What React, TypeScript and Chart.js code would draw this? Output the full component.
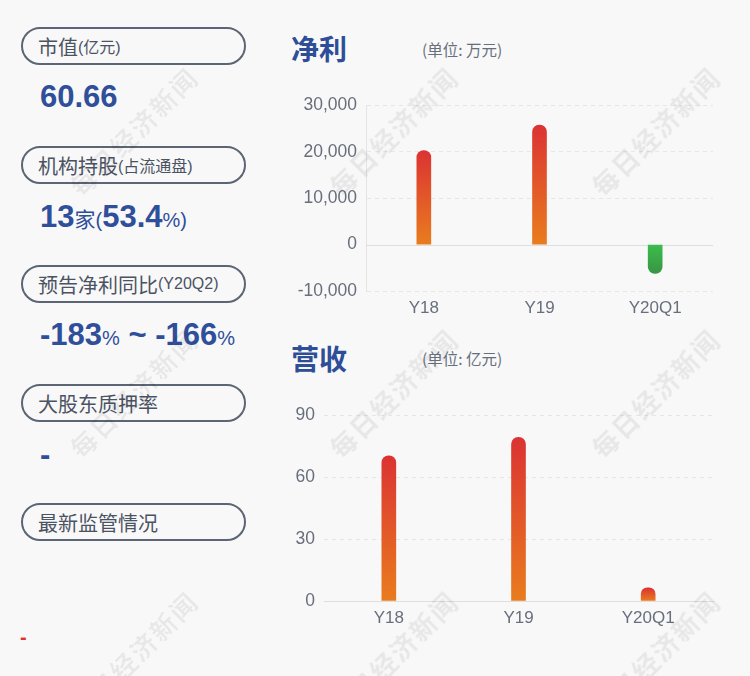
import React, { useEffect, useRef } from 'react';
import { Chart, registerables } from 'chart.js';

Chart.register(...registerables);

// ---- data ----
const categories: string[] = ['Y18', 'Y19', 'Y20Q1'];
const profitValues: number[] = [20300, 25800, -6200];
const revenueValues: number[] = [70.4, 79.4, 6.4];
const profitTicks: number[] = [-10000, 0, 10000, 20000, 30000];
const revenueTicks: number[] = [0, 30, 60, 90];

const watermarkCenters: number[][] = [
  [133, 131], [393, 131], [655, 131],
  [133, 393], [393, 393], [655, 393],
  [133, 655], [393, 655], [655, 655],
];

const LATIN = '"Liberation Sans", Arial, "Noto Sans CJK SC", sans-serif';
const CJK = '"Noto Sans CJK SC", "Liberation Sans", sans-serif';
const BLUE = '#2f4f9a';
const BOX = '#5b6573';
const LABEL = '#4b5363';
const TICK = '#686f7c';

function barGradient(c: any) {
  const chart = c.chart;
  const area = chart.chartArea;
  const v = c.raw as number;
  if (!area || c.type !== 'data' || !chart.scales || !chart.scales.y) return v < 0 ? '#3cb54a' : '#e05a2a';
  const y = chart.scales.y;
  const y0 = y.getPixelForValue(0);
  const y1 = y.getPixelForValue(v);
  if (!isFinite(y0) || !isFinite(y1) || y0 === y1) return v < 0 ? '#3cb54a' : '#e05a2a';
  const g = chart.ctx.createLinearGradient(0, y1, 0, y0);
  if (v >= 0) {
    g.addColorStop(0, '#db3333');
    g.addColorStop(1, '#e97c1e');
  } else {
    g.addColorStop(0, '#379643');
    g.addColorStop(1, '#3dbc4c');
  }
  return g;
}

const zeroLine = {
  id: 'zeroLine',
  beforeDatasetsDraw(chart: any) {
    const y = chart.scales.y;
    const { left, right } = chart.chartArea;
    const py = Math.round(y.getPixelForValue(0)) + 0.5;
    const ctx = chart.ctx;
    ctx.save();
    ctx.strokeStyle = '#dedede';
    ctx.lineWidth = 1;
    ctx.beginPath();
    ctx.moveTo(left, py);
    ctx.lineTo(right, py);
    ctx.stroke();
    ctx.restore();
  },
};

function BarChart(props: {
  values: number[];
  ticks: number[];
  yWidth: number;
  showYBorder: boolean;
  showXBorder: boolean;
  left: number;
  top: number;
}) {
  const ref = useRef<HTMLCanvasElement | null>(null);
  useEffect(() => {
    if (!ref.current) return;
    const t = props.ticks;
    const chart = new Chart(ref.current, {
      type: 'bar',
      data: {
        labels: categories,
        datasets: [
          {
            data: props.values,
            backgroundColor: barGradient as any,
            barThickness: 14,
            borderRadius: 7,
            borderSkipped: 'start',
          },
        ],
      },
      plugins: [zeroLine],
      options: {
        animation: false,
        responsive: false,
        devicePixelRatio: 1,
        layout: { padding: { top: 2, right: 17, bottom: 0, left: 0 } },
        plugins: { legend: { display: false }, tooltip: { enabled: false } },
        scales: {
          x: {
            grid: { display: false, drawTicks: false },
            border: { display: props.showXBorder, color: '#dcdcdc' },
            ticks: { color: TICK, font: { family: LATIN, size: 17 }, padding: 7 },
            afterFit: (s: any) => { s.height = 30; },
          },
          y: {
            min: t[0],
            max: t[t.length - 1],
            grid: {
              drawTicks: false,
              color: (c: any) => (c.tick && c.tick.value === 0 ? 'rgba(0,0,0,0)' : '#e7e7e7'),
            },
            border: { display: props.showYBorder, color: '#e4e4e4', dash: [4, 4] },
            ticks: {
              stepSize: t[1] - t[0],
              color: TICK,
              font: { family: LATIN, size: 17.5 },
              padding: 9,
              callback: (v: any) => Number(v).toLocaleString('en-US'),
            },
            afterFit: (s: any) => { s.width = props.yWidth; },
          },
        },
      },
    });
    return () => chart.destroy();
  }, []);
  return (
    <canvas
      ref={ref}
      width={450}
      height={235}
      style={{ position: 'absolute', left: props.left, top: props.top, width: 450, height: 235 }}
    />
  );
}

function Pill(props: { top: number; children: React.ReactNode }) {
  return (
    <div
      style={{
        position: 'absolute',
        left: 21,
        top: props.top,
        width: 225,
        height: 38,
        boxSizing: 'border-box',
        border: `2px solid ${BOX}`,
        borderRadius: 19,
        display: 'flex',
        alignItems: 'center',
        paddingLeft: 15,
        fontFamily: LATIN,
        fontSize: 20,
        color: LABEL,
        whiteSpace: 'nowrap',
      }}
    >
      {props.children}
    </div>
  );
}

function Value(props: { top: number; children: React.ReactNode; color?: string; size?: number; left?: number }) {
  const size = props.size || 31;
  return (
    <div
      style={{
        position: 'absolute',
        left: props.left ?? 40,
        top: props.top,
        fontFamily: LATIN,
        fontWeight: 'bold',
        fontSize: size,
        lineHeight: `${size}px`,
        color: props.color || BLUE,
        whiteSpace: 'nowrap',
      }}
    >
      {props.children}
    </div>
  );
}

const small = { fontSize: 20, fontWeight: 'normal' as const };
const small16 = { fontSize: 16 };

export default function App() {
  return (
    <div
      style={{
        position: 'absolute',
        left: 0,
        top: 0,
        width: 750,
        height: 676,
        background: '#f8f8f8',
        overflow: 'hidden',
      }}
    >
      <Pill top={27}>市值<span style={small16}>(亿元)</span></Pill>
      <Value top={81}>60.66</Value>

      <Pill top={146}>机构持股<span style={small16}>(占流通盘)</span></Pill>
      <Value top={201}>
        13<span style={{ ...small, fontSize: 21 }}>家</span>
        <span style={small}>(</span>53.4<span style={small}>%)</span>
      </Value>

      <Pill top={265}>预告净利同比<span style={small16}>(Y20Q2)</span></Pill>
      <Value top={319}>
        -183<span style={small}>%</span> ~ -166<span style={small}>%</span>
      </Value>

      <Pill top={384}>大股东质押率</Pill>
      <Value top={439}>-</Value>

      <Pill top={503}>最新监管情况</Pill>
      <Value top={627} size={20} left={20} color="#e03030">-</Value>

      <div style={{ position: 'absolute', left: 291, top: 34, fontFamily: CJK, fontWeight: 'bold', fontSize: 28, lineHeight: '28px', color: '#2e4e98' }}>净利</div>
      <div style={{ position: 'absolute', left: 422, top: 40, fontFamily: CJK, fontSize: 15.5, lineHeight: '18px', color: TICK }}>(单位: 万元)</div>
      <BarChart values={profitValues} ticks={profitTicks} yWidth={86} showYBorder={true} showXBorder={false} left={280} top={86} />

      <div style={{ position: 'absolute', left: 291, top: 344, fontFamily: CJK, fontWeight: 'bold', fontSize: 28, lineHeight: '28px', color: '#2e4e98' }}>营收</div>
      <div style={{ position: 'absolute', left: 422, top: 349, fontFamily: CJK, fontSize: 15.5, lineHeight: '18px', color: TICK }}>(单位: 亿元)</div>
      <BarChart values={revenueValues} ticks={revenueTicks} yWidth={44} showYBorder={false} showXBorder={true} left={280} top={396} />

      {watermarkCenters.map((p, i) => (
        <div
          key={i}
          style={{
            position: 'absolute',
            left: p[0],
            top: p[1],
            transform: 'translate(-50%, -50%) rotate(-45deg)',
            fontFamily: CJK,
            fontWeight: 'bold',
            fontSize: 26,
            letterSpacing: 2,
            color: 'rgba(0,0,0,0.065)',
            whiteSpace: 'nowrap',
            pointerEvents: 'none',
          }}
        >
          每日经济新闻
        </div>
      ))}
    </div>
  );
}
